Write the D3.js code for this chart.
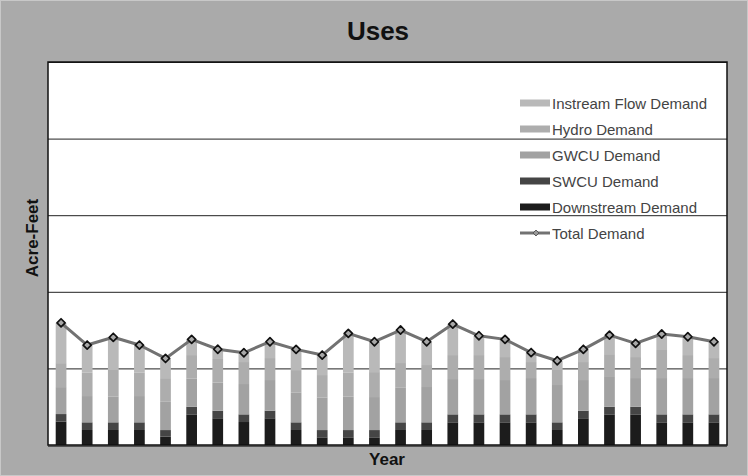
<!DOCTYPE html>
<html>
<head>
<meta charset="utf-8">
<script src="https://cdn.jsdelivr.net/npm/d3@7"></script>
<style>
  html, body { margin: 0; padding: 0; background: #aaaaaa; }
  svg { display: block; }
  text { font-family: "Liberation Sans", Arial, sans-serif; }
</style>
</head>
<body>
<svg id="chart" width="748" height="476"></svg>
<script>
// Water year categories (one stacked bar each)
const years = d3.range(1975, 2001).map(String);

// Demand components, acre-feet
const downstreamDemand = [3040, 1960, 1960, 1960, 1080, 4000, 3490, 3000, 3490, 1960, 1000, 1000, 1000,
                          1960, 1960, 2960, 2960, 2960, 2960, 1960, 3490, 4000, 4000, 2960, 2960, 2960];
const swcuDemand       = [1000, 1000, 1000, 1000,  870,  990,  990, 1000,  990, 1000,  950,  950,  950,
                          1000, 1000, 1040, 1040, 1040, 1040, 1000,  990,  990,  990, 1040, 1040, 1040];
const gwcuDemand       = [3520, 3430, 3340, 3430, 3690, 3660, 3660, 3960, 4000, 3860, 4220, 4350, 4310,
                          4570, 4610, 4610, 4610, 4480, 4740, 4870, 4000, 4000, 3750, 4740, 4740, 4740];
const hydroDemand      = [3130, 3040, 3490, 3040, 3090, 3090, 3090, 2870, 2870, 2960, 2960, 3130, 3260,
                          3170, 2870, 3130, 3130, 3000, 2090, 1960, 2350, 2870, 2740, 3660, 3000, 2610];
const instreamDemand   = [5260, 3620, 4270, 3620, 2570, 2050, 1270, 1210, 2130, 2700, 2610, 5140, 3960,
                          4310, 3040, 4050, 2520, 2310, 1240, 1210, 1660, 2480, 1790, 2090, 2390, 2130];

const seriesNames = ["Downstream Demand", "SWCU Demand", "GWCU Demand", "Hydro Demand", "Instream Flow Demand"];
const seriesColors = ["#1c1c1c", "#454545", "#a2a2a2", "#adadad", "#b9b9b9"];
const yTicks = [0, 10000, 20000, 30000, 40000, 50000];

const rows = years.map((y, i) => ({
  year: y,
  "Downstream Demand": downstreamDemand[i],
  "SWCU Demand": swcuDemand[i],
  "GWCU Demand": gwcuDemand[i],
  "Hydro Demand": hydroDemand[i],
  "Instream Flow Demand": instreamDemand[i]
}));
// Total demand is the sum of the five components
const totalDemand = rows.map(r => d3.sum(seriesNames, k => r[k]));

const svg = d3.select("#chart");
const W = 748, H = 476;
const plot = { left: 48, top: 62, right: 727, bottom: 445 };

// outer frame
svg.append("rect").attr("x", 0.5).attr("y", 0.5).attr("width", W - 1).attr("height", H - 1)
  .attr("fill", "#aaaaaa").attr("stroke", "#c8c8c8");

// plot background
svg.append("rect")
  .attr("x", plot.left).attr("y", plot.top)
  .attr("width", plot.right - plot.left).attr("height", plot.bottom - plot.top)
  .attr("fill", "#ffffff");

const x = d3.scaleBand().domain(years).range([plot.left, plot.right])
  .paddingInner(0.59).paddingOuter(0.295);
const y = d3.scaleLinear().domain([0, 50000]).range([plot.bottom, plot.top]);

// horizontal gridlines
svg.append("g")
  .attr("transform", `translate(${plot.left},0)`)
  .call(d3.axisLeft(y).tickValues(yTicks).tickSize(-(plot.right - plot.left)).tickFormat(""))
  .call(g => g.select(".domain").remove())
  .call(g => g.selectAll(".tick line").attr("stroke", "#222").attr("stroke-width", 1));

// stacked bars
const stack = d3.stack().keys(seriesNames)(rows);
svg.append("g").selectAll("g").data(stack).join("g")
  .attr("fill", (d, i) => seriesColors[i])
  .selectAll("rect").data(d => d).join("rect")
  .attr("x", d => x(d.data.year))
  .attr("width", x.bandwidth())
  .attr("y", d => y(d[1]))
  .attr("height", d => y(d[0]) - y(d[1]));

// total demand line
const cx = i => x(years[i]) + x.bandwidth() / 2;
const line = d3.line().x((d, i) => cx(i)).y(d => y(d));
svg.append("path").datum(totalDemand)
  .attr("d", line).attr("fill", "none")
  .attr("stroke", "#727272").attr("stroke-width", 3).attr("stroke-linejoin", "round");

const diamond = d3.symbol().type(d3.symbolDiamond2).size(42);
svg.append("g").selectAll("path").data(totalDemand).join("path")
  .attr("d", diamond)
  .attr("transform", (d, i) => `translate(${cx(i)},${y(d)})`)
  .attr("fill", "#a8a8a8").attr("stroke", "#111").attr("stroke-width", 1.7)
  .attr("stroke-linejoin", "round");

// plot border
svg.append("rect")
  .attr("x", plot.left).attr("y", plot.top)
  .attr("width", plot.right - plot.left).attr("height", plot.bottom - plot.top)
  .attr("fill", "none").attr("stroke", "#111").attr("stroke-width", 1.5);
svg.append("line").attr("x1", plot.left).attr("x2", plot.right)
  .attr("y1", plot.bottom + 1).attr("y2", plot.bottom + 1)
  .attr("stroke", "#333").attr("stroke-width", 1.5);

// title and axis titles
svg.append("text").attr("x", 378).attr("y", 40).attr("text-anchor", "middle")
  .attr("font-size", 26).attr("font-weight", "bold").attr("fill", "#111")
  .text("Uses");
svg.append("text").attr("x", 387).attr("y", 465).attr("text-anchor", "middle")
  .attr("font-size", 17).attr("font-weight", "bold").attr("fill", "#111")
  .text("Year");
svg.append("text").attr("transform", "translate(38,238) rotate(-90)").attr("text-anchor", "middle")
  .attr("font-size", 17).attr("font-weight", "bold").attr("fill", "#111")
  .text("Acre-Feet");

// legend
const legendItems = [
  { name: "Instream Flow Demand", color: seriesColors[4] },
  { name: "Hydro Demand", color: seriesColors[3] },
  { name: "GWCU Demand", color: seriesColors[2] },
  { name: "SWCU Demand", color: seriesColors[1] },
  { name: "Downstream Demand", color: seriesColors[0] },
  { name: "Total Demand", line: true }
];
const lg = svg.append("g").attr("transform", "translate(520,103)");
const li = lg.selectAll("g").data(legendItems).join("g")
  .attr("transform", (d, i) => `translate(0,${i * 26})`);
li.filter(d => !d.line).append("rect")
  .attr("x", 0).attr("y", -3.5).attr("width", 30).attr("height", 7)
  .attr("fill", d => d.color);
li.filter(d => d.line).append("line")
  .attr("x1", 0).attr("x2", 30).attr("y1", 0).attr("y2", 0)
  .attr("stroke", "#727272").attr("stroke-width", 3);
li.filter(d => d.line).append("path")
  .attr("d", d3.symbol().type(d3.symbolDiamond2).size(22))
  .attr("transform", "translate(16,0)")
  .attr("fill", "#9a9a9a").attr("stroke", "#555").attr("stroke-width", 1);
li.append("text").attr("x", 32).attr("y", 5.5)
  .attr("font-size", 15).attr("fill", "#444")
  .text(d => d.name);
</script>
</body>
</html>
